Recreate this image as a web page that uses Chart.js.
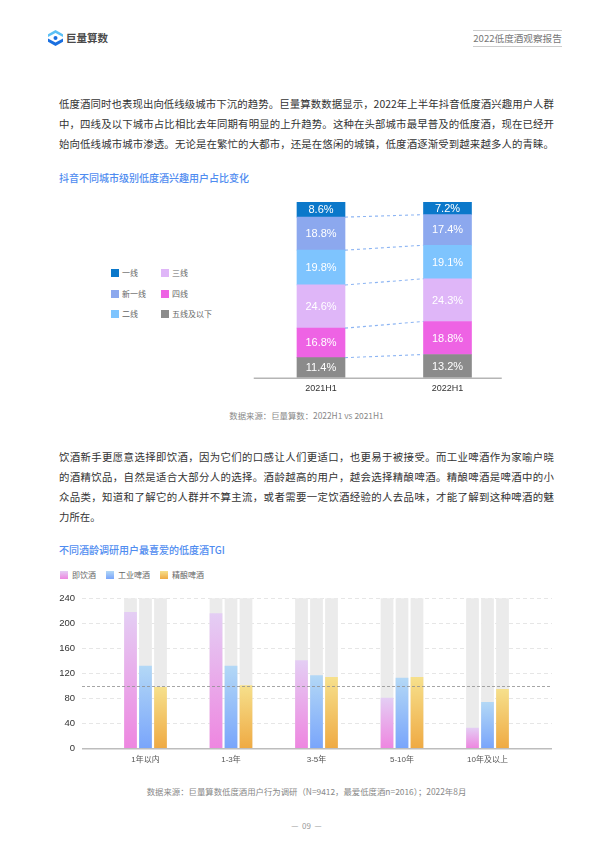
<!DOCTYPE html>
<html><head><meta charset="utf-8">
<script src="https://cdn.jsdelivr.net/npm/chart.js@4.4.1/dist/chart.umd.min.js"></script>
<style>
html,body{margin:0;padding:0;background:#fff;}
body{width:613px;height:859px;position:relative;overflow:hidden;font-family:"Noto Sans CJK SC","Noto Sans",sans-serif;}
.para{position:absolute;left:59px;width:495px;font-size:10.4px;color:#333;}
.para div{height:20px;line-height:20px;text-align:justify;text-align-last:justify;}
.para div.last{text-align-last:left;}
.title{position:absolute;left:59px;font-size:10px;line-height:14px;color:#4f8cf0;font-weight:500;white-space:nowrap;}
.lg{position:absolute;font-size:8px;line-height:10px;color:#666;white-space:nowrap;}
.box{position:absolute;width:8px;height:8px;}
.src{position:absolute;left:0;width:613px;text-align:center;font-size:8.4px;line-height:12px;color:#888;white-space:nowrap;}
canvas{position:absolute;left:0;}
</style></head>
<body>
<!-- header -->
<svg style="position:absolute;left:48px;top:30px" width="15" height="16" viewBox="0 0 15 16">
  <polygon points="7.5,0 15,4.2 15,7 7.5,3 0,7 0,4.2" fill="#5cc0f5"/>
  <polygon points="0,8.5 7.5,12.5 15,8.5 15,11.8 7.5,16 0,11.8" fill="#1a6fe0"/>
  <circle cx="7.5" cy="8" r="2" fill="#1a6fe0"/>
</svg>
<div style="position:absolute;left:66px;top:31px;font-size:10.5px;line-height:14px;font-weight:bold;color:#4a4a4a;white-space:nowrap;">巨量算数</div>
<div style="position:absolute;left:473px;top:30px;width:89px;height:15px;border-top:1px solid #ccc;border-bottom:1px solid #ccc;font-size:9.6px;line-height:15px;color:#777;text-align:center;white-space:nowrap;">2022低度酒观察报告</div>

<div class="para" style="top:94px;">
<div>低度酒同时也表现出向低线级城市下沉的趋势。巨量算数数据显示，2022年上半年抖音低度酒兴趣用户人群</div>
<div>中，四线及以下城市占比相比去年同期有明显的上升趋势。这种在头部城市最早普及的低度酒，现在已经开</div>
<div>始向低线城市城市渗透。无论是在繁忙的大都市，还是在悠闲的城镇，低度酒逐渐受到越来越多人的青睐。</div>
</div>

<div class="title" style="top:171px;">抖音不同城市级别低度酒兴趣用户占比变化</div>

<div id="legend1"></div>

<canvas id="c1" width="613" height="215" style="top:190px;"></canvas>

<div class="src" style="top:409px;">数据来源：巨量算数：2022H1 vs 2021H1</div>

<div class="para" style="top:447px;">
<div>饮酒新手更愿意选择即饮酒，因为它们的口感让人们更适口，也更易于被接受。而工业啤酒作为家喻户晓</div>
<div>的酒精饮品，自然是适合大部分人的选择。酒龄越高的用户，越会选择精酿啤酒。精酿啤酒是啤酒中的小</div>
<div>众品类，知道和了解它的人群并不算主流，或者需要一定饮酒经验的人去品味，才能了解到这种啤酒的魅</div>
<div class="last">力所在。</div>
</div>

<div class="title" style="top:543px;">不同酒龄调研用户最喜爱的低度酒TGI</div>

<div id="legend2"></div>

<canvas id="c2" width="613" height="185" style="top:585px;"></canvas>

<div class="src" style="top:785px;">数据来源：巨量算数低度酒用户行为调研（N=9412，最爱低度酒n=2016）；2022年8月</div>
<div class="src" style="top:820px;font-size:8px;color:#999;">—&nbsp; 09 &nbsp;—</div>

<script>
// ---------- Chart 1 data ----------
const cityCategories = ['2021H1', '2022H1'];
const tierNames = ['一线', '新一线', '二线', '三线', '四线', '五线及以下'];
const tier1 = [8.6, 7.2];
const newTier1 = [18.8, 17.4];
const tier2 = [19.8, 19.1];
const tier3 = [24.6, 24.3];
const tier4 = [16.8, 18.8];
const tier5 = [11.4, 13.2];
const tierColors = ['#0b78ca', '#8ca8ee', '#7ec4fe', '#dfb6f8', '#ee63e4', '#8b8b8b'];

// ---------- Chart 2 data ----------
const ageCategories = ['1年以内', '1-3年', '3-5年', '5-10年', '10年及以上'];
const drinkNames = ['即饮酒', '工业啤酒', '精酿啤酒'];
const rtdTGI = [218, 216, 141, 81, 33];
const industrialBeerTGI = [132, 132, 117, 113, 74];
const craftBeerTGI = [98, 101, 114, 114, 95];
const tgiMax = 240;
const tgiStep = 40;
const tgiBaseline = 100;

const gradStops = [['#e4cef4', '#ee86e0'], ['#b3d8f6', '#79a5fb'], ['#f6e08c', '#efaa43']];

const FONT_LATIN = '"Liberation Sans", Arial, "Noto Sans CJK SC", sans-serif';

// ---------- Legends (HTML) ----------
(function(){
  const l1 = document.getElementById('legend1');
  const rows = [273.3, 293.7, 314.3];
  const cols = [[111, 122], [161, 172]];
  tierNames.forEach((n, i) => {
    const c = Math.floor(i / 3), r = i % 3;
    l1.insertAdjacentHTML('beforeend',
      `<div class="box" style="left:${cols[c][0]}px;top:${rows[r]-4}px;background:${tierColors[i]}"></div>` +
      `<div class="lg" style="left:${cols[c][1]}px;top:${rows[r]-5}px">${n}</div>`);
  });
  const l2 = document.getElementById('legend2');
  const pos = [[60, 72], [106, 118], [160, 172]];
  drinkNames.forEach((n, i) => {
    l2.insertAdjacentHTML('beforeend',
      `<div class="box" style="left:${pos[i][0]}px;top:571px;background:linear-gradient(${gradStops[i][0]},${gradStops[i][1]})"></div>` +
      `<div class="lg" style="left:${pos[i][1]}px;top:570px">${n}</div>`);
  });
})();

// ---------- Chart 1 ----------
const stackPlugin = {
  id: 'stackPlugin',
  afterDatasetsDraw(chart) {
    const ctx = chart.ctx;
    const n = chart.data.datasets.length;
    ctx.save();
    // connectors
    ctx.strokeStyle = '#8db5f3';
    ctx.lineWidth = 1.1;
    ctx.setLineDash([3, 3]);
    for (let i = 0; i < n - 1; i++) {
      const m = chart.getDatasetMeta(i);
      const a = m.data[0], b = m.data[1];
      ctx.beginPath();
      ctx.moveTo(a.x + a.width / 2, a.y);
      ctx.lineTo(b.x - b.width / 2, b.y);
      ctx.stroke();
    }
    ctx.setLineDash([]);
    // baseline
    const y0 = chart.scales.y.getPixelForValue(0);
    ctx.strokeStyle = '#b5b5b5';
    ctx.lineWidth = 1.5;
    ctx.beginPath();
    ctx.moveTo(chart.chartArea.left - 4, y0 + 0.5);
    ctx.lineTo(chart.chartArea.right - 9, y0 + 0.5);
    ctx.stroke();
    // labels
    ctx.fillStyle = '#ffffff';
    ctx.font = '11px ' + FONT_LATIN;
    ctx.textAlign = 'center';
    ctx.textBaseline = 'middle';
    chart.data.datasets.forEach((ds, i) => {
      chart.getDatasetMeta(i).data.forEach((el, j) => {
        ctx.fillText(ds.data[j].toFixed(1) + '%', el.x, (el.y + el.base) / 2 + 0.5);
      });
    });
    ctx.restore();
  }
};

const stackSeries = [tier5, tier4, tier3, tier2, newTier1, tier1];
const stackNames = [tierNames[5], tierNames[4], tierNames[3], tierNames[2], tierNames[1], tierNames[0]];
const stackColors = [tierColors[5], tierColors[4], tierColors[3], tierColors[2], tierColors[1], tierColors[0]];

new Chart(document.getElementById('c1'), {
  type: 'bar',
  data: {
    labels: cityCategories,
    datasets: stackSeries.map((d, i) => ({
      label: stackNames[i], data: d, backgroundColor: stackColors[i], borderWidth: 0, barThickness: 48
    }))
  },
  options: {
    responsive: false, animation: false, devicePixelRatio: 1,
    layout: { padding: { left: 257.75, right: 102.25, top: 12, bottom: 7.3 } },
    plugins: { legend: { display: false }, tooltip: { enabled: false } },
    scales: {
      x: {
        stacked: true, grid: { display: false, drawTicks: false }, border: { display: false },
        ticks: { color: '#333', font: { family: FONT_LATIN, size: 9 }, padding: 5, maxRotation: 0 },
        afterFit: s => { s.height = 20; }
      },
      y: { stacked: true, display: false, min: 0, max: 100 }
    }
  },
  plugins: [stackPlugin]
});

// ---------- Chart 2 ----------
const tgiPlugin = {
  id: 'tgiPlugin',
  beforeDatasetsDraw(chart) {
    const ctx = chart.ctx, ys = chart.scales.y, a = chart.chartArea;
    const L = a.left - 20.75, R = a.right + 21.75;
    ctx.save();
    // dashed grid
    ctx.strokeStyle = '#e6e6e6';
    ctx.lineWidth = 1;
    ctx.setLineDash([4, 3]);
    ys.ticks.forEach(t => {
      if (t.value === 0) return;
      const y = Math.round(ys.getPixelForValue(t.value)) + 0.5;
      ctx.beginPath(); ctx.moveTo(L, y); ctx.lineTo(R, y); ctx.stroke();
    });
    ctx.setLineDash([]);
    // grey full-scale track behind each bar
    const yTop = ys.getPixelForValue(tgiMax), yBot = ys.getPixelForValue(0);
    ctx.fillStyle = '#ebebeb';
    chart.data.datasets.forEach((ds, i) => {
      chart.getDatasetMeta(i).data.forEach(el => {
        ctx.fillRect(el.x - el.width / 2, yTop, el.width, yBot - yTop);
      });
    });
    ctx.restore();
  },
  afterDatasetsDraw(chart) {
    const ctx = chart.ctx, ys = chart.scales.y, a = chart.chartArea;
    const L = a.left - 20.75, R = a.right + 21.75;
    ctx.save();
    // baseline TGI=100
    ctx.strokeStyle = '#8f8f8f';
    ctx.lineWidth = 0.8;
    ctx.setLineDash([3, 2]);
    let y = Math.round(ys.getPixelForValue(tgiBaseline)) + 0.5;
    ctx.beginPath(); ctx.moveTo(L, y); ctx.lineTo(R, y); ctx.stroke();
    ctx.setLineDash([]);
    // axis line
    ctx.strokeStyle = '#bdbdbd';
    ctx.lineWidth = 1.5;
    y = ys.getPixelForValue(0) + 0.5;
    ctx.beginPath(); ctx.moveTo(L, y); ctx.lineTo(R, y); ctx.stroke();
    ctx.restore();
  }
};

function gradFill(idx) {
  return (c) => {
    const chart = c.chart;
    if (!chart.chartArea || c.dataIndex === undefined) return gradStops[idx][1];
    const ys = chart.scales.y;
    const top = ys.getPixelForValue(c.dataset.data[c.dataIndex]);
    const bot = ys.getPixelForValue(0);
    const g = chart.ctx.createLinearGradient(0, top, 0, bot);
    g.addColorStop(0, gradStops[idx][0]);
    g.addColorStop(1, gradStops[idx][1]);
    return g;
  };
}

const tgiSeries = [rtdTGI, industrialBeerTGI, craftBeerTGI];

new Chart(document.getElementById('c2'), {
  type: 'bar',
  data: {
    labels: ageCategories,
    datasets: tgiSeries.map((d, i) => ({
      label: drinkNames[i], data: d, backgroundColor: gradFill(i),
      categoryPercentage: 0.526, barPercentage: 0.85, borderWidth: 0
    }))
  },
  options: {
    responsive: false, animation: false, devicePixelRatio: 1,
    layout: { padding: { left: 0, right: 82.75, top: 13.3, bottom: 3.7 } },
    plugins: { legend: { display: false }, tooltip: { enabled: false } },
    scales: {
      x: {
        offset: true, grid: { display: false, drawTicks: false }, border: { display: false },
        ticks: { color: '#555', font: { family: FONT_LATIN, size: 8 }, padding: 7, maxRotation: 0 },
        afterFit: s => { s.height = 18; }
      },
      y: {
        min: 0, max: tgiMax,
        grid: { display: false, drawTicks: false }, border: { display: false },
        ticks: { stepSize: tgiStep, color: '#333', font: { family: FONT_LATIN, size: 9.5 }, padding: 27.75 },
        afterFit: s => { s.width = 102.75; s.paddingTop = 6; s.paddingBottom = 6; }
      }
    }
  },
  plugins: [tgiPlugin]
});
</script>
</body></html>
